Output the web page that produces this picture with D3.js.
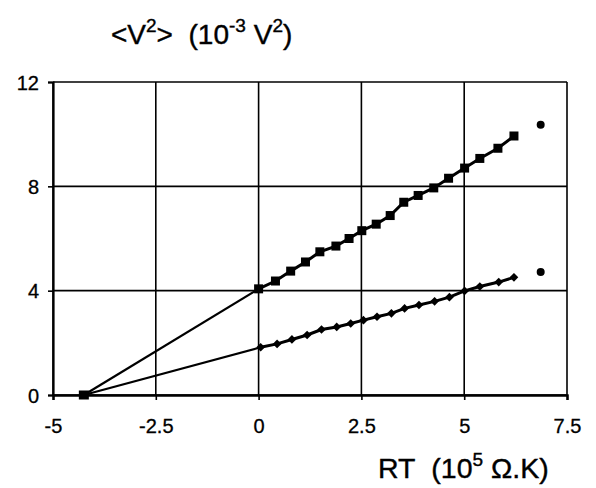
<!DOCTYPE html>
<html><head><meta charset="utf-8">
<script src="https://cdn.jsdelivr.net/npm/d3@7"></script>
<style>body{margin:0;background:#fff}svg{display:block}text{font-family:"Liberation Sans",Arial,sans-serif;fill:#000}</style>
</head><body><svg id="c" width="596" height="488"></svg>
<script>
// Data
const upperX = [0, 0.41, 0.78, 1.14, 1.49, 1.88, 2.2, 2.51, 2.86, 3.2, 3.53, 3.88, 4.26, 4.62, 5.01, 5.38, 5.82, 6.21];
const upperY = [4.07, 4.37, 4.75, 5.1, 5.49, 5.71, 6.0, 6.3, 6.55, 6.88, 7.39, 7.65, 7.94, 8.31, 8.7, 9.07, 9.46, 9.93];
const lowerX = [0.05, 0.45, 0.81, 1.18, 1.53, 1.9, 2.24, 2.55, 2.88, 3.23, 3.55, 3.9, 4.28, 4.64, 5.01, 5.38, 5.84, 6.21];
const lowerY = [1.83, 1.96, 2.13, 2.3, 2.51, 2.61, 2.74, 2.87, 3.0, 3.13, 3.32, 3.45, 3.59, 3.75, 3.99, 4.16, 4.33, 4.51];
const extraX = [6.86, 6.86];
const extraY = [10.36, 4.72];
const interceptX = -4.25;
const xTicks = [-5, -2.5, 0, 2.5, 5, 7.5];
const yTicks = [0, 4, 8, 12];

const svg = d3.select("#c");
const x = d3.scaleLinear().domain([-5, 7.5]).range([53, 567]);
const y = d3.scaleLinear().domain([0, 12]).range([395, 82]);

// grid
const g = svg.append("g");
g.selectAll("line.vx").data(xTicks).join("line")
  .attr("x1", d => x(d)).attr("x2", d => x(d)).attr("y1", y(12)).attr("y2", y(0))
  .attr("stroke", "#000").attr("stroke-width", 1.6);
g.selectAll("line.hy").data(yTicks).join("line")
  .attr("y1", d => y(d)).attr("y2", d => y(d)).attr("x1", x(-5)).attr("x2", x(7.5))
  .attr("stroke", "#000").attr("stroke-width", 1.6);

// axes
const yAxis = d3.axisLeft(y).tickValues(yTicks).tickSize(5).tickPadding(9).tickFormat(d3.format("d"));
const ya = svg.append("g").attr("transform", `translate(${x(-5)},0)`).call(yAxis);
ya.select(".domain").attr("stroke-width", 2.2);
ya.selectAll(".tick line").attr("stroke-width", 1.6);
ya.selectAll("text").attr("font-size", 20).attr("dy", "0.35em").attr("stroke", "#000").attr("stroke-width", 0.3);

const xAxis = d3.axisBottom(x).tickValues(xTicks).tickSize(5).tickPadding(19).tickFormat(d => String(d));
const xa = svg.append("g").attr("transform", `translate(0,${y(0)})`).call(xAxis);
xa.select(".domain").attr("stroke-width", 2.4);
xa.selectAll(".tick line").attr("stroke-width", 1.6);
xa.selectAll("text").attr("font-size", 20).attr("dy", "0.71em").attr("stroke", "#000").attr("stroke-width", 0.3);

// lines
const line = d3.line().x(d => x(d[0])).y(d => y(d[1]));
const up = upperX.map((v, i) => [v, upperY[i]]);
const lo = lowerX.map((v, i) => [v, lowerY[i]]);
svg.append("path").attr("d", line([[interceptX, 0], up[0]])).attr("fill", "none").attr("stroke", "#000").attr("stroke-width", 2.2);
svg.append("path").attr("d", line([[interceptX, 0], lo[0]])).attr("fill", "none").attr("stroke", "#000").attr("stroke-width", 2.2);
svg.append("path").attr("d", line(up)).attr("fill", "none").attr("stroke", "#000").attr("stroke-width", 3);
svg.append("path").attr("d", line(lo)).attr("fill", "none").attr("stroke", "#000").attr("stroke-width", 3);

// markers
svg.selectAll("rect.up").data(up).join("rect")
  .attr("x", d => x(d[0]) - 4.5).attr("y", d => y(d[1]) - 4.5).attr("width", 9).attr("height", 9).attr("fill", "#000");
svg.append("rect").attr("x", x(interceptX) - 5).attr("y", y(0) - 4.5).attr("width", 10).attr("height", 9).attr("fill", "#000");
svg.selectAll("path.lo").data(lo).join("path")
  .attr("d", d3.symbol(d3.symbolDiamond2, 48)).attr("transform", d => `translate(${x(d[0])},${y(d[1])})`).attr("fill", "#000");
svg.selectAll("circle.ex").data(extraX.map((v, i) => [v, extraY[i]])).join("circle")
  .attr("cx", d => x(d[0])).attr("cy", d => y(d[1])).attr("r", 4).attr("fill", "#000");

// titles
function title(sel, parts) {
  parts.forEach(p => {
    const ts = sel.append("tspan").text(p.t);
    if (p.sup) ts.attr("font-size", 19).attr("dy", -12);
    else if (p.back) ts.attr("dy", 12);
  });
}
const t1 = svg.append("text").attr("x", 111).attr("y", 44).attr("font-size", 28).attr("stroke", "#000").attr("stroke-width", 0.4);
title(t1, [{t: "<V"}, {t: "2", sup: 1}, {t: ">\u00a0\u00a0(10", back: 1}, {t: "-3", sup: 1}, {t: "\u00a0V", back: 1}, {t: "2", sup: 1}, {t: ")", back: 1}]);

const t2 = svg.append("text").attr("x", 378).attr("y", 478).attr("font-size", 28.5).attr("stroke", "#000").attr("stroke-width", 0.4);
title(t2, [{t: "RT\u00a0\u00a0(10"}, {t: "5", sup: 1}, {t: "\u00a0\u03A9.K)", back: 1}]);
</script></body></html>
